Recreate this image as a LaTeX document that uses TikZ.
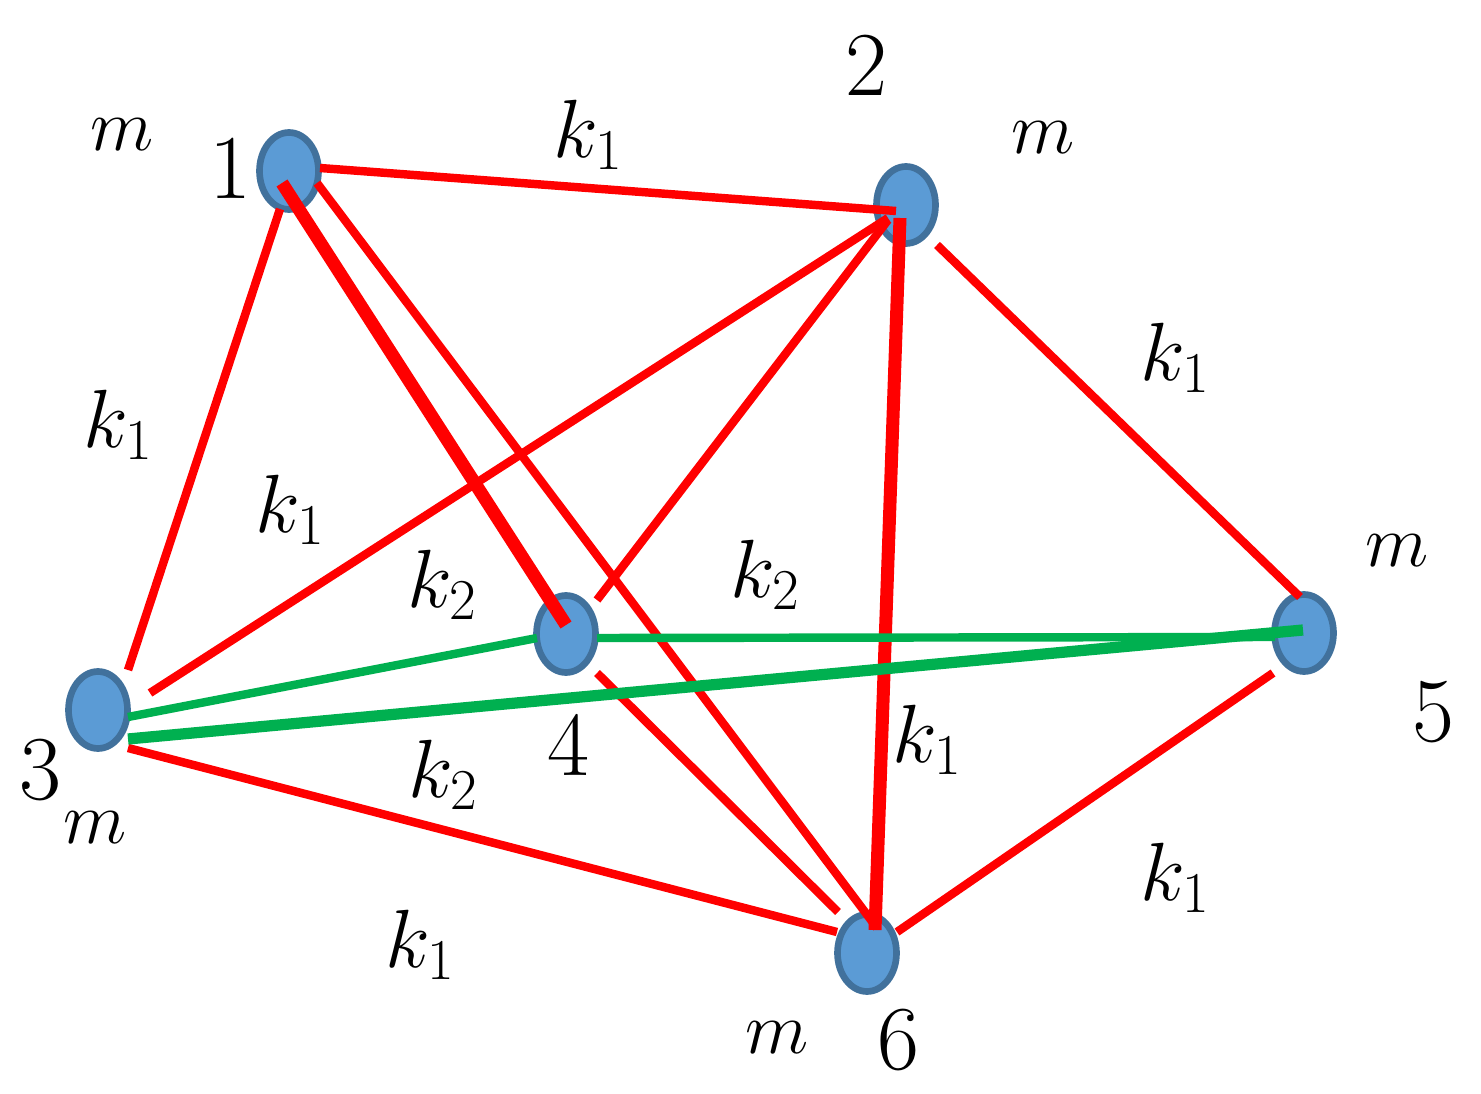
\RequirePackage{fix-cm}
\documentclass[tikz,border=0pt]{standalone}
\usetikzlibrary{shapes.geometric,calc}
\definecolor{nodefill}{HTML}{5B9BD5}
\definecolor{nodeline}{HTML}{41719C}
\definecolor{edgered}{HTML}{FF0000}
\definecolor{edgegreen}{HTML}{00B050}
\begin{document}
\begin{tikzpicture}[x=0.02cm,y=-0.02cm,
  mass/.style={ellipse,draw=nodeline,fill=nodefill,line width=3.8pt,minimum width=1.18cm,minimum height=1.54cm,inner sep=0pt},
  redthin/.style={draw=edgered,line width=4.8pt},
  redthick/.style={draw=edgered,line width=7.4pt},
  greenthin/.style={draw=edgegreen,line width=4.8pt},
  greenthick/.style={draw=edgegreen,line width=6.4pt},
  lbl/.style={font=\fontsize{42}{50}\selectfont,inner sep=0pt},
  klbl/.style={font=\fontsize{47}{56}\selectfont,inner sep=0pt},
  num/.style={font=\fontsize{52}{60}\selectfont,inner sep=0pt}]
\useasboundingbox (0,0) rectangle (1481,1094);
% nodes
\node[mass] (n1) at (289,171) {};
\node[mass] (n2) at (906,205) {};
\node[mass] (n3) at (98,710) {};
\node[mass] (n4) at (566,634) {};
\node[mass] (n5) at (1304,633) {};
\node[mass] (n6) at (867,953) {};
% red edges
\draw[redthin] ([shift={(31,-3)}]n1.center) -- ([shift={(-10,6)}]n2.center);
\draw[redthin] ([shift={(-9,38)}]n1.center) -- ([shift={(30,-40)}]n3.center);
\draw[redthick] ([shift={(-7,12)}]n1.center) -- ([shift={(0,-9)}]n4.center);
\draw[redthin] ([shift={(28,12)}]n1.center) -- ([shift={(10,-25)}]n6.center);
\draw[redthin] ([shift={(-18,13)}]n2.center) -- ([shift={(52,-17)}]n3.center);
\draw[redthin] ([shift={(-18,15)}]n2.center) -- ([shift={(31,-34)}]n4.center);
\draw[redthick] ([shift={(-6,13)}]n2.center) -- ([shift={(8,-23)}]n6.center);
\draw[redthin] ([shift={(31,40)}]n2.center) -- ([shift={(-4,-36)}]n5.center);
\draw[redthin] ([shift={(30,38)}]n3.center) -- ([shift={(-30,-21)}]n6.center);
\draw[redthin] ([shift={(31,39)}]n4.center) -- ([shift={(-29,-41)}]n6.center);
\draw[redthin] ([shift={(-31,40)}]n5.center) -- ([shift={(30,-21)}]n6.center);
% green edges
\draw[greenthin] ([shift={(30,7)}]n3.center) -- ([shift={(-29,4)}]n4.center);
\draw[greenthin] ([shift={(31,4)}]n4.center) -- ([shift={(-29,4)}]n5.center);
\draw[greenthick] ([shift={(30,29)}]n3.center) -- ([shift={(-1,-3)}]n5.center);
% labels
\node[lbl] (m1) at (122,135) {$m$};
\node[lbl] (m2) at (1043,138) {$m$};
\node[lbl] (m5) at (1397,551) {$m$};
\node[lbl] (m3) at (95,828) {$m$};
\node[lbl] (m6) at (777,1038) {$m$};
\node[num] (t1) at (230,168) {1};
\node[num] (t2) at (866,65) {2};
\node[num] (t3) at (40,770) {3};
\node[num] (t4) at (568,745) {4};
\node[num] (t5) at (1433,712) {5};
\node[num] (t6) at (898,1040) {6};
\node[klbl] (k12) at (588,135) {$k_1$};
\node[klbl] (k13) at (118,425) {$k_1$};
\node[klbl] (k23) at (290,510) {$k_1$};
\node[klbl] (k14) at (442,585) {$k_2$};
\node[klbl] (k45) at (765,575) {$k_2$};
\node[klbl] (k25) at (1175,358) {$k_1$};
\node[klbl] (k35) at (443,775) {$k_2$};
\node[klbl] (k26) at (927,740) {$k_1$};
\node[klbl] (k56) at (1175,878) {$k_1$};
\node[klbl] (k36) at (420,945) {$k_1$};
\end{tikzpicture}
\end{document}
